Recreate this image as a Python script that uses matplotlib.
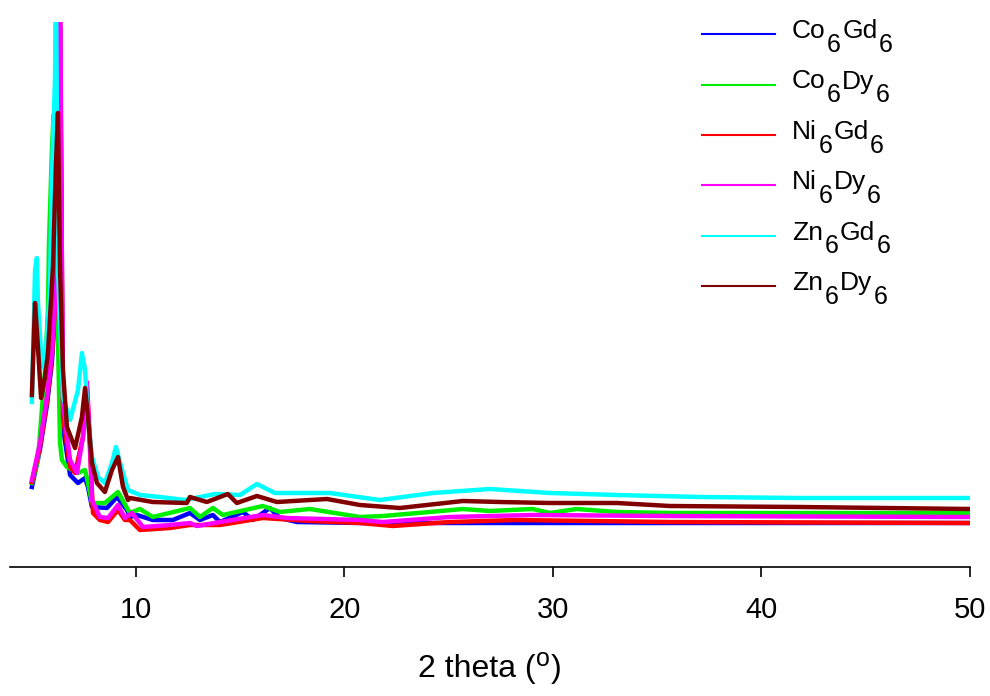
import matplotlib
matplotlib.use('Agg')
import matplotlib.pyplot as plt
from matplotlib.lines import Line2D

plt.rcParams['font.family'] = ['Liberation Sans', 'DejaVu Sans']

# 2 theta / intensity (arb. units)
co6gd6_x = [5.01, 5.40, 5.73, 5.97, 6.12, 6.26, 6.36, 6.45, 6.50, 6.84, 7.22, 7.56, 7.70, 7.89,
            8.61, 9.09, 9.57, 9.71, 10.05, 10.81, 11.77, 12.59, 13.07, 13.69, 14.03, 15.13,
            15.61, 16.42, 16.90, 17.72, 20.74, 26.40, 35.0, 50.0]
co6gd6_y = [80, 118, 162, 205, 255, 430, 540, 280, 140, 92, 84, 89, 80, 60,
            59, 70, 57, 50, 52, 47, 47, 54, 47, 52, 45, 55,
            47, 59, 49, 45, 44, 44, 44, 44]

co6dy6_x = [5.01, 5.30, 5.64, 5.78, 5.83, 5.97, 6.05, 6.26, 6.36, 6.45, 6.69, 7.22, 7.56, 7.70,
            7.89, 8.51, 9.14, 9.57, 9.71, 10.19, 10.81, 12.59, 13.07, 13.69, 14.17, 16.09,
            16.90, 18.34, 20.74, 21.84, 24.09, 25.68, 26.97, 29.03, 29.85, 31.14, 33.06,
            35.60, 42.0, 50.0]
co6dy6_y = [84, 107, 197, 257, 324, 417, 452, 230, 124, 107, 100, 94, 97, 84,
            64, 64, 75, 59, 54, 58, 50, 59, 50, 59, 52, 61,
            55, 58, 50, 51, 55, 58, 56, 58, 54, 58, 55,
            54, 54, 54]

ni6gd6_x = [5.01, 5.40, 5.73, 5.97, 6.12, 6.26, 6.36, 6.45, 6.50, 6.84, 7.08, 7.46, 7.65, 7.79,
            7.94, 8.27, 8.66, 9.14, 9.47, 9.71, 10.19, 11.63, 12.59, 14.03, 16.09, 18.34,
            20.74, 22.32, 25.05, 28.26, 35.60, 50.0]
ni6gd6_y = [85, 120, 165, 210, 260, 440, 560, 300, 150, 100, 94, 130, 180, 120,
            54, 47, 45, 57, 47, 47, 37, 39, 42, 42, 49, 46,
            44, 41, 45, 47, 45, 44]

ni6dy6_x = [5.01, 5.40, 5.73, 5.97, 6.12, 6.26, 6.36, 6.45, 6.50, 6.84, 7.17, 7.46, 7.65, 7.79,
            7.89, 8.27, 8.66, 9.14, 9.47, 9.81, 10.34, 11.63, 12.59, 12.92, 14.03, 16.09,
            17.24, 20.74, 21.84, 25.05, 29.03, 35.60, 50.0]
ni6dy6_y = [87, 124, 170, 214, 264, 450, 600, 300, 164, 107, 94, 130, 185, 130,
            67, 50, 49, 62, 49, 54, 40, 42, 44, 41, 45, 52,
            49, 47, 45, 50, 52, 51, 50]

zn6gd6_x = [5.01, 5.16, 5.25, 5.30, 5.45, 5.54, 5.73, 5.88, 5.97, 6.12, 6.16, 6.26, 6.50, 6.84,
            7.22, 7.41, 7.56, 7.70, 7.89, 8.18, 8.51, 8.85, 9.04, 9.24, 9.62, 10.20, 11.15,
            12.35, 13.79, 14.99, 15.80, 16.66, 19.30, 21.70, 24.24, 26.97, 29.85, 33.06,
            37.04, 41.83, 50.0]
zn6gd6_y = [165, 297, 309, 264, 214, 200, 230, 280, 390, 490, 600, 297, 170, 147,
            177, 214, 197, 147, 110, 90, 84, 104, 120, 104, 77, 72, 70,
            67, 73, 72, 83, 74, 74, 67, 74, 78, 74, 72,
            70, 69, 69]

zn6dy6_x = [5.01, 5.16, 5.30, 5.45, 5.64, 5.78, 6.02, 6.16, 6.26, 6.36, 6.50, 6.69, 7.08, 7.41,
            7.56, 7.70, 7.89, 8.13, 8.51, 8.85, 9.14, 9.38, 9.62, 9.71, 10.81, 12.44, 12.59,
            13.40, 14.41, 14.84, 15.80, 16.76, 19.16, 20.74, 22.66, 25.68, 27.45, 29.85,
            33.06, 35.60, 41.83, 50.0]
zn6dy6_y = [172, 264, 220, 169, 190, 214, 300, 400, 454, 297, 197, 140, 119, 150,
            179, 150, 104, 84, 75, 97, 110, 80, 67, 69, 65, 64, 70,
            65, 73, 64, 71, 65, 68, 62, 59, 66, 65, 64,
            64, 61, 60, 58]

# legend names split into (metal, ion) parts, each followed by subscript 6
names = [('Co', 'Gd'), ('Co', 'Dy'), ('Ni', 'Gd'), ('Ni', 'Dy'), ('Zn', 'Gd'), ('Zn', 'Dy')]
colors = ['#0000FF', '#00EE00', '#FF0000', '#FF00FF', '#00FFFF', '#800000']
xs = [co6gd6_x, co6dy6_x, ni6gd6_x, ni6dy6_x, zn6gd6_x, zn6dy6_x]
ys = [co6gd6_y, co6dy6_y, ni6gd6_y, ni6dy6_y, zn6gd6_y, zn6dy6_y]

W, H = 990, 696
fig = plt.figure(figsize=(9.9, 6.96), dpi=100)
ax = fig.add_axes([10 / W, 1 - 567 / H, 960 / W, 545 / H])

for x, y, c in zip(xs, ys, colors):
    ax.plot(x, y, color=c, lw=3.2)

ax.set_xlim(3.96, 50)
ax.set_ylim(0, 545)
ax.set_xticks([10, 20, 30, 40, 50])
ax.set_yticks([])
for s in ['top', 'right', 'left']:
    ax.spines[s].set_visible(False)
ax.spines['bottom'].set_linewidth(1.2)
ax.tick_params(axis='x', direction='out', length=7, width=1.2, pad=14, labelsize=21)


def chain(parts, x0, y0, size, subsize, drop, gap=1.0):
    # parts: list of (text, level); level 0 = normal, -1 = subscript, +1 = superscript
    prev = None
    last_level = 0
    for txt, lev in parts:
        fs = size if lev == 0 else subsize
        if prev is None:
            prev = ax.annotate(txt, xy=(x0, H - y0), xycoords='figure pixels',
                               fontsize=fs, va='baseline', ha='left')
        else:
            dy = (lev - last_level) * drop
            prev = ax.annotate(txt, xy=(1, 0), xycoords=prev, xytext=(gap, dy),
                               textcoords='offset points', fontsize=fs,
                               va='bottom', ha='left')
        last_level = lev


row_y = [34, 84.5, 135, 185, 235.5, 286]
for (m, ion), c, ry in zip(names, colors, row_y):
    fig.add_artist(Line2D([702 / W, 775 / W], [1 - ry / H, 1 - ry / H],
                          transform=fig.transFigure, color=c, lw=1.5))
    chain([(m, 0), ('6', -1), (ion, 0), ('6', -1)], 792, ry + 4, 19, 18, 10)

# x axis title: 2 theta (o)
chain([('2 theta (', 0), ('o', 1), (')', 0)], 418, 677, 23, 18, 9, gap=0.5)

fig.savefig('out.png', dpi=100)
